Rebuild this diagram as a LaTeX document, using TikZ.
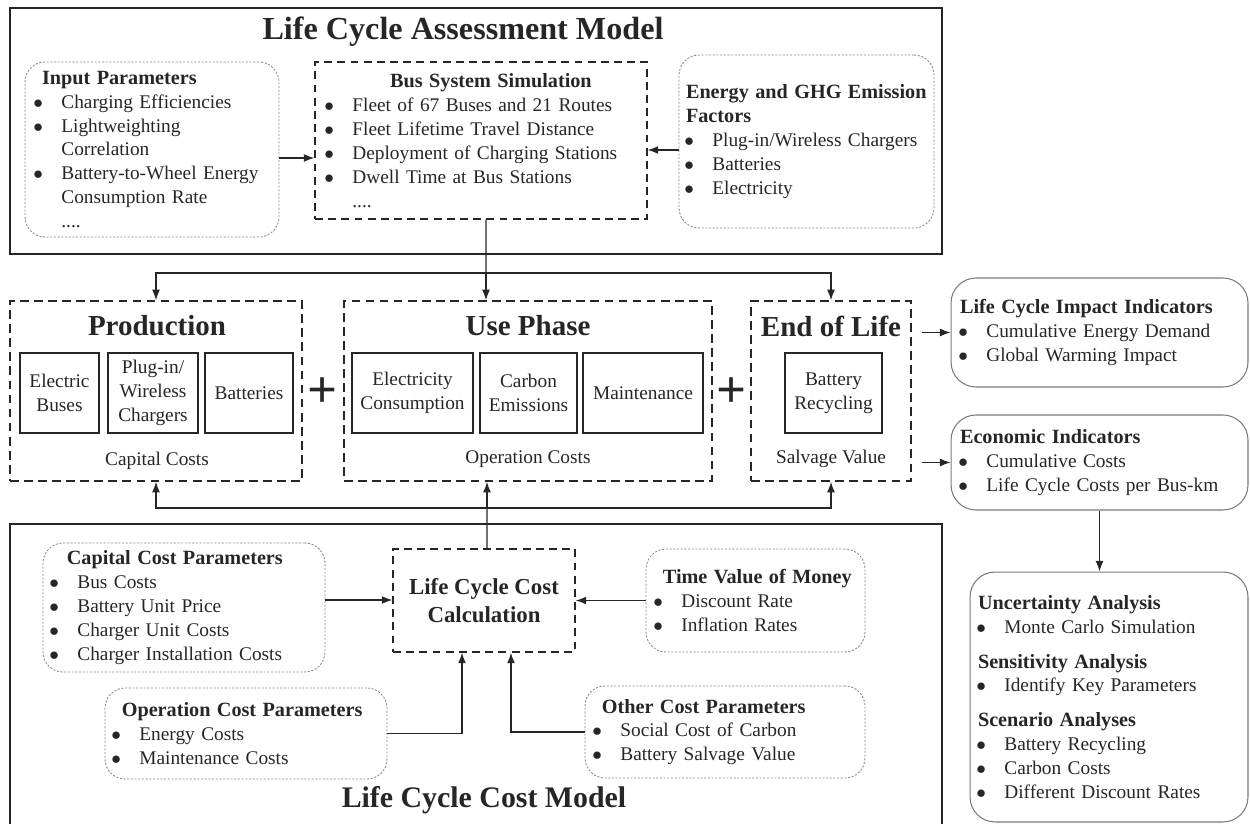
\documentclass[tikz,border=0pt]{standalone}
\usepackage{fontspec}
\setmainfont{Liberation Serif}
\usetikzlibrary{arrows.meta, positioning}

\definecolor{ink}{HTML}{262626}
\definecolor{dotgray}{HTML}{8A8A8A}
\definecolor{rimgray}{HTML}{7A7A7A}

\newcommand{\bodyfont}{\fontsize{11}{13.6}\selectfont}
\newcommand{\headfont}{\fontsize{11.5}{13.6}\selectfont\bfseries}
\newcommand{\bul}{\makebox[15pt][l]{\hspace*{-1pt}$\bullet$}}
\newcommand{\ind}{\hspace*{15pt}}
\newcommand{\head}[2][0pt]{\hspace*{#1}\mbox{\headfont #2}}

\begin{document}
\begin{tikzpicture}[x=0.02cm, y=-0.02cm, color=ink, >={Latex[length=6pt,width=4.5pt]},
    frame/.style={draw, line width=1.5pt},
    bigtitle/.style={font=\fontsize{18.3}{20}\selectfont\bfseries},
    phasetitle/.style={font=\fontsize{16.5}{18}\selectfont\bfseries},
    phasebox/.style={draw, line width=0.9pt, dash pattern=on 5pt off 3pt, minimum height=3.6cm},
    simbox/.style={draw, line width=0.8pt, dash pattern=on 4.5pt off 3pt, font=\bodyfont},
    partbox/.style={draw, line width=0.6pt, minimum height=1.6cm, align=center, font=\bodyfont, inner sep=1pt},
    parambox/.style={draw=dotgray, line width=0.5pt, dash pattern=on 1.2pt off 0.9pt, rounded corners=0.4cm, align=left, font=\bodyfont, inner ysep=2pt},
    resultbox/.style={draw=rimgray, line width=0.6pt, rounded corners=0.5cm, align=left, font=\bodyfont, inner ysep=2pt},
    plain/.style={font=\bodyfont},
    plussign/.style={font=\fontsize{30}{30}\selectfont\bfseries, inner sep=0pt},
    link/.style={line width=0.7pt}]

\useasboundingbox (0,0) rectangle (1250,824);

% life cycle assessment model
\node[frame, minimum width=18.64cm, minimum height=4.92cm] (lca) at (476,131) {};
\node[bigtitle] (lcatitle) at (463,32) {Life Cycle Assessment Model};

\node[parambox, minimum width=5.08cm, minimum height=3.5cm, text width=4.68cm, inner xsep=0.2cm] (inp) at (152,149.5)
    {\head[4pt]{Input Parameters}\\
     \bul Charging Efficiencies\\
     \bul Lightweighting\\
     \ind Correlation\\
     \bul Battery-to-Wheel Energy\\
     \ind Consumption Rate\\
     \ind ....};

\node[simbox, minimum width=6.64cm, minimum height=3.14cm, text width=6.2cm, inner xsep=0.22cm, align=left] (bus) at (481,140.5)
    {\makebox[\linewidth][c]{\hspace*{0.4cm}\headfont Bus System Simulation}\\
     \bul Fleet of 67 Buses and 21 Routes\\
     \bul Fleet Lifetime Travel Distance\\
     \bul Deployment of Charging Stations\\
     \bul Dwell Time at Bus Stations\\
     \ind ....};

\node[parambox, minimum width=5.1cm, minimum height=3.46cm, text width=4.82cm, inner xsep=0.14cm] (ghg) at (806.5,141.5)
    {\head{Energy and GHG Emission}\\
     \head{Factors}\\
     \bul Plug-in/Wireless Chargers\\
     \bul Batteries\\
     \bul Electricity};

\draw[link, ->] ([yshift=-0.17cm]inp.east) -- ([yshift=-0.17cm]inp.east -| bus.west);
\draw[link, ->] ([yshift=-0.17cm]ghg.west) -- ([yshift=-0.17cm]ghg.west -| bus.east);

% phases
\node[phasebox, minimum width=5.84cm] (prod) at (156,391) {};
\node[phasetitle] (prodtitle) at (157,326) {Production};
\node[partbox, minimum width=1.58cm] (ebus) at (59.5,393) {Electric\\Buses};
\node[partbox, minimum width=1.8cm] (charger) at (153,393) {Plug-in/\\Wireless\\Chargers};
\node[partbox, minimum width=1.76cm] (batt) at (249,393) {Batteries};
\node[plain] (capcost) at (157,461) {Capital Costs};

\node[plussign] (plus1) at (323,393) {+};

\node[phasebox, minimum width=7.36cm] (use) at (528,391) {};
\node[phasetitle] (usetitle) at (528,326) {Use Phase};
\node[partbox, minimum width=2.42cm] (elec) at (412.5,393) {Electricity\\Consumption};
\node[partbox, minimum width=1.94cm] (carbon) at (528.5,393) {Carbon\\Emissions};
\node[partbox, minimum width=2.4cm] (maint) at (643,393) {Maintenance};
\node[plain] (opcost) at (528,459) {Operation Costs};

\node[plussign] (plus2) at (732,393) {+};

\node[phasebox, minimum width=3.2cm] (eol) at (831,391) {};
\node[phasetitle] (eoltitle) at (831,326) {End of Life};
\node[partbox, minimum width=1.94cm] (recyc) at (833.5,393) {Battery\\Recycling};
\node[plain] (salvage) at (831,459) {Salvage Value};

\coordinate (fwd) at (486,273);
\draw[link] ([xshift=0.1cm]bus.south) -- (fwd);
\draw[link, ->] (fwd) -| (prod.north);
\draw[link, ->] (fwd) -- (fwd |- use.north);
\draw[link, ->] (fwd) -| (eol.north);

% indicators
\node[resultbox, minimum width=5.94cm, minimum height=2.18cm, text width=5.58cm, inner xsep=0.18cm] (lci) at (1099.5,332.5)
    {\head{Life Cycle Impact Indicators}\\
     \bul Cumulative Energy Demand\\
     \bul Global Warming Impact};

\node[resultbox, minimum width=5.94cm, minimum height=1.9cm, text width=5.58cm, inner xsep=0.18cm] (econ) at (1099.5,462.5)
    {\head{Economic Indicators}\\
     \bul Cumulative Costs\\
     \bul Life Cycle Costs per Bus-km};

\node[resultbox, minimum width=5.56cm, minimum height=5cm, text width=5.24cm, inner xsep=0.16cm] (unc) at (1109,697)
    {\head{Uncertainty Analysis}\\
     \bul Monte Carlo Simulation\\[6pt]
     \head{Sensitivity Analysis}\\
     \bul Identify Key Parameters\\[6pt]
     \head{Scenario Analyses}\\
     \bul Battery Recycling\\
     \bul Carbon Costs\\
     \bul Different Discount Rates};

\draw[link, ->] ([xshift=0.2cm]eol.east |- lci.west) -- (lci.west);
\draw[link, ->] ([xshift=0.2cm]eol.east |- econ.west) -- (econ.west);
\draw[link, ->] (econ.south) -- (econ.south |- unc.north);

% life cycle cost model
\node[frame, minimum width=18.64cm, minimum height=6.2cm] (lcm) at (476,679) {};
\node[bigtitle, font=\fontsize{17}{20}\selectfont\bfseries] (lcmtitle) at (484,800) {Life Cycle Cost Model};

\node[simbox, minimum width=3.64cm, minimum height=2.06cm, align=center, font=\fontsize{13}{16}\selectfont\bfseries] (lcc) at (484,600.5)
    {Life Cycle Cost\\Calculation};

\node[parambox, minimum width=5.64cm, minimum height=2.58cm, text width=5.32cm, inner xsep=0.16cm] (cap) at (184,607.5)
    {\head[9pt]{Capital Cost Parameters}\\
     \bul Bus Costs\\
     \bul Battery Unit Price\\
     \bul Charger Unit Costs\\
     \bul Charger Installation Costs};

\node[parambox, minimum width=5.64cm, minimum height=1.82cm, text width=5.32cm, inner xsep=0.16cm] (opc) at (246,733.5)
    {\head[5pt]{Operation Cost Parameters}\\
     \bul Energy Costs\\
     \bul Maintenance Costs};

\node[parambox, minimum width=4.38cm, minimum height=2.06cm, text width=4.02cm, inner xsep=0.18cm] (tvm) at (755.5,600.5)
    {\head[4.5pt]{Time Value of Money}\\
     \bul Discount Rate\\
     \bul Inflation Rates};

\node[parambox, minimum width=5.6cm, minimum height=1.84cm, text width=5.24cm, inner xsep=0.18cm] (other) at (725,732)
    {\head[4.5pt]{Other Cost Parameters}\\
     \bul Social Cost of Carbon\\
     \bul Battery Salvage Value};

\draw[link, ->] ([yshift=0.15cm]cap.east) -- ([yshift=0.15cm]cap.east -| lcc.west);
\draw[link, ->] (tvm.west) -- (tvm.west -| lcc.east);
\draw[link, ->] (opc.east) -| ([xshift=-0.44cm]lcc.south);
\draw[link, ->] (other.west) -| ([xshift=0.54cm]lcc.south);

\coordinate (back) at (487,508);
\draw[link] ([xshift=0.06cm]lcc.north) -- (back);
\draw[link, ->] (back) -- (back |- use.south);
\draw[link, ->] (back) -| (prod.south);
\draw[link, ->] (back) -| (eol.south);
\end{tikzpicture}
\end{document}
